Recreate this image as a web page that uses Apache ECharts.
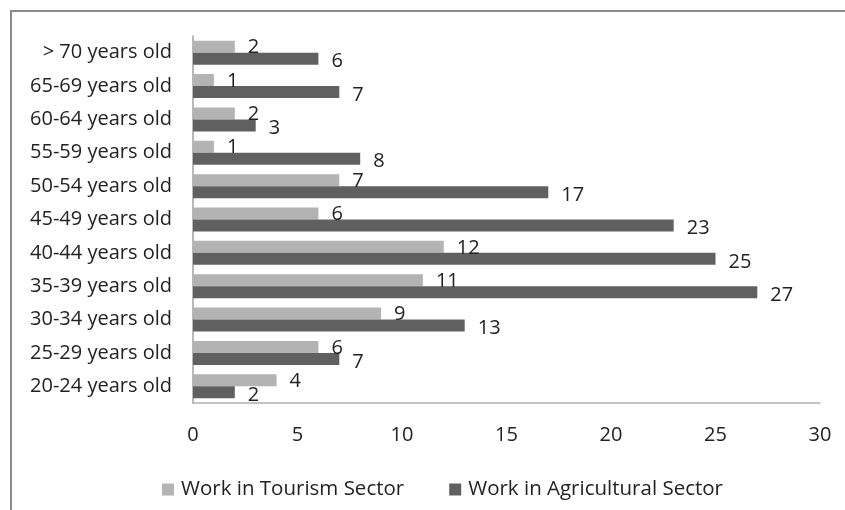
<!DOCTYPE html>
<html><head><meta charset="utf-8">
<script src="https://cdn.jsdelivr.net/npm/echarts@6/dist/echarts.min.js"></script>
<style>html,body{margin:0;padding:0;background:#fff}#c{width:845px;height:510px}</style>
</head><body><div id="c"></div>
<script>
const categories = ['20-24 years old','25-29 years old','30-34 years old','35-39 years old','40-44 years old','45-49 years old','50-54 years old','55-59 years old','60-64 years old','65-69 years old','> 70 years old'];
const tourism = [4,6,9,11,12,6,7,1,2,1,2];
const agricultural = [2,7,13,27,25,23,17,8,3,7,6];
const xTicks = [0,5,10,15,20,25,30];

const font = '"Open Sans", Lato, sans-serif';
const fs = 20;
const chart = echarts.init(document.getElementById('c'));
chart.setOption({
  animation:false,
  textStyle:{fontFamily:font},
  graphic:[{type:'rect',shape:{x:11,y:11,width:900,height:600},style:{fill:'none',stroke:'#8a8a8a',lineWidth:2},silent:true}],
  grid:{left:193,right:25,top:36,bottom:107,containLabel:false},
  legend:{top:474,left:157,itemWidth:12,itemHeight:12,itemGap:45,icon:'rect',
    textStyle:{fontFamily:font,fontSize:20.5,color:'#222',padding:[0,0,0,2]},
    data:['Work in Tourism Sector','Work in Agricultural Sector']},
  xAxis:{type:'value',min:xTicks[0],max:xTicks[xTicks.length-1],interval:5,
    axisLine:{show:true,lineStyle:{color:'#b0b0b0',width:1.5}},axisTick:{show:false},splitLine:{show:false},
    axisLabel:{margin:22,fontSize:fs,color:'#222',fontFamily:font}},
  yAxis:{type:'category',data:categories,
    axisLine:{show:true,lineStyle:{color:'#a0a0a0',width:1.5}},axisTick:{show:false},
    axisLabel:{margin:21,fontSize:fs,color:'#222',fontFamily:font}},
  series:[
    {name:'Work in Tourism Sector',type:'bar',data:tourism,barGap:'0%',barCategoryGap:'28%',
     itemStyle:{color:'#b3b3b3'},
     label:{show:true,position:'right',distance:13,offset:[0,1],fontSize:fs,color:'#222',fontFamily:font}},
    {name:'Work in Agricultural Sector',type:'bar',data:agricultural,barGap:'0%',barCategoryGap:'28%',
     itemStyle:{color:'#606060'},
     label:{show:true,position:'right',distance:13,offset:[0,3],fontSize:fs,color:'#222',fontFamily:font}}
  ]
});
</script></body></html>
